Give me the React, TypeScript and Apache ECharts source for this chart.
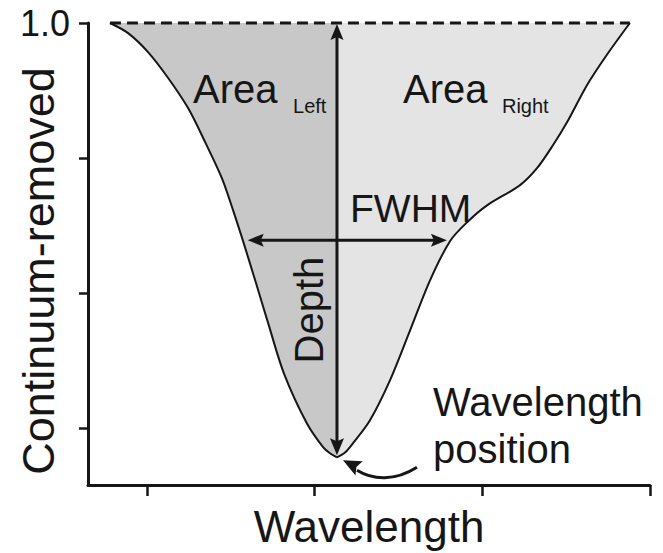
import { useEffect, useRef } from "react";
import * as echarts from "echarts";

// Continuum-removed absorption feature, left limb (shoulder to band centre)
const leftWavelength = [0.779, 0.887, 1.006, 1.125, 1.245, 1.346, 1.447, 1.513, 1.573, 1.65, 1.722, 1.817, 1.954, 2.05, 2.091, 2.133];
const leftValue = [1.0, 0.985, 0.957, 0.919, 0.874, 0.824, 0.77, 0.723, 0.677, 0.615, 0.556, 0.481, 0.407, 0.372, 0.363, 0.357];

// Right limb (band centre to shoulder)
const rightWavelength = [2.133, 2.181, 2.229, 2.33, 2.449, 2.569, 2.688, 2.807, 2.909, 3.028, 3.225, 3.326, 3.421, 3.505, 3.624, 3.743, 3.88];
const rightValue = [0.357, 0.364, 0.378, 0.412, 0.471, 0.545, 0.619, 0.677, 0.705, 0.73, 0.76, 0.785, 0.819, 0.853, 0.908, 0.953, 1.0];

// Continuum (hull) level and axis ticks
const continuumLevel = 1.0;
const xTicks = [1, 2, 3, 4];
const yTicks = [1.0, 0.8, 0.6, 0.4];
const yLabelTicks = [1.0];

const FONT = "'Liberation Sans', Arial, Helvetica, sans-serif";
const INK = "#161616";

const zip = (xs: number[], ys: number[]) => xs.map((x, i) => [x, ys[i]]);

// x position where a limb crosses a given level (linear between samples)
function crossing(xs: number[], ys: number[], level: number): number {
  for (let i = 0; i < xs.length - 1; i++) {
    const a = ys[i], b = ys[i + 1];
    if ((a - level) * (b - level) <= 0 && a !== b) {
      return xs[i] + ((level - a) / (b - a)) * (xs[i + 1] - xs[i]);
    }
  }
  return xs[0];
}

function arrowHead(tip: number[], dx: number, dy: number, len: number, halfW: number, notch: number) {
  const m = Math.hypot(dx, dy);
  const ux = dx / m, uy = dy / m;
  const bx = tip[0] - ux * len, by = tip[1] - uy * len;
  const nx = -uy, ny = ux;
  return [
    [tip[0], tip[1]],
    [bx + nx * halfW, by + ny * halfW],
    [tip[0] - ux * (len - notch), tip[1] - uy * (len - notch)],
    [bx - nx * halfW, by - ny * halfW],
  ];
}

export default function App() {
  const ref = useRef<HTMLDivElement>(null);

  useEffect(() => {
    document.body.style.margin = "0";
    if (!ref.current) return;
    const chart = echarts.init(ref.current, null, { renderer: "svg" });

    const bandCenter = leftWavelength[leftWavelength.length - 1];
    const bandMin = leftValue[leftValue.length - 1];
    const halfLevel = (continuumLevel + bandMin) / 2;
    const fwhmLeft = crossing(leftWavelength, leftValue, halfLevel);
    const fwhmRight = crossing(rightWavelength, rightValue, halfLevel);

    chart.setOption({
      animation: false,
      backgroundColor: "#ffffff",
      grid: { left: 88, right: 13, top: 23, bottom: 68, containLabel: false, outerBoundsMode: "none" },
      xAxis: {
        type: "value",
        min: 0.648,
        max: 4,
        name: "Wavelength",
        nameLocation: "middle",
        nameGap: 19,
        nameMoveOverlap: false,
        nameTextStyle: { fontSize: 44, fontFamily: FONT, color: INK },
        axisLine: { show: true, onZero: false, lineStyle: { color: INK, width: 3 } },
        axisTick: { show: true, customValues: xTicks, length: 11, lineStyle: { color: INK, width: 2.5 } },
        axisLabel: { show: false },
        splitLine: { show: false },
      },
      yAxis: {
        type: "value",
        min: 0.316,
        max: 1.0,
        axisLine: { show: true, onZero: false, lineStyle: { color: INK, width: 3 } },
        axisTick: { show: true, customValues: yTicks, length: 9, lineStyle: { color: INK, width: 2.5 } },
        axisLabel: {
          show: true,
          customValues: yLabelTicks,
          margin: 18,
          fontSize: 36,
          fontFamily: FONT,
          color: INK,
          formatter: (v: number) => v.toFixed(1),
        },
        splitLine: { show: false },
      },
      series: [
        {
          name: "Area Left",
          type: "line",
          data: zip(leftWavelength, leftValue),
          smooth: 0.3,
          showSymbol: false,
          clip: false,
          lineStyle: { color: INK, width: 2 },
          areaStyle: { color: "#c8c8c8", opacity: 1, origin: "end" },
          z: 2,
        },
        {
          name: "Area Right",
          type: "line",
          data: zip(rightWavelength, rightValue),
          smooth: 0.3,
          showSymbol: false,
          clip: false,
          lineStyle: { color: INK, width: 2 },
          areaStyle: { color: "#e4e4e4", opacity: 1, origin: "end" },
          z: 2,
        },
        {
          name: "Continuum",
          type: "line",
          data: [
            [leftWavelength[0], continuumLevel],
            [rightWavelength[rightWavelength.length - 1], continuumLevel],
          ],
          showSymbol: false,
          clip: false,
          lineStyle: { color: INK, width: 3, type: [11, 6] },
          z: 4,
        },
      ],
    });

    const p = (x: number, y: number) => chart.convertToPixel({ gridIndex: 0 }, [x, y]) as number[];

    const top = p(bandCenter, continuumLevel);
    const bottom = p(bandCenter, bandMin);
    const fl = p(fwhmLeft, halfLevel);
    const fr = p(fwhmRight, halfLevel);

    const depthTop = [top[0], top[1] + 1];
    const depthBottom = [bottom[0], bottom[1] - 2];
    const fwhmL = [fl[0] + 5, fl[1]];
    const fwhmR = [fr[0] - 4, fr[1]];

    // curved pointer to the band centre
    const c0 = bottom;
    const curveStart = [c0[0] + 80, c0[1] + 10];
    const curveEnd = [c0[0] + 20, c0[1] + 13];
    const curveTip = [c0[0] + 6, c0[1] + 3];

    const textStyle = (text: string, x: number, y: number, size: number, align = "left") => ({
      text,
      x,
      y,
      fill: INK,
      font: `${size}px ${FONT}`,
      fontSize: size,
      fontFamily: FONT,
      textAlign: align,
      textVerticalAlign: "middle",
    });

    const aL = p(1.274, 0.902);
    const sL = p(1.871, 0.877);
    const aR = p(2.527, 0.902);
    const sR = p(3.117, 0.877);
    const fw = p(2.211, 0.726);
    const dp = p(1.966, 0.575);
    const w1 = p(2.706, 0.439);
    const w2 = p(2.706, 0.369);

    // vertical axis title, centred beside the axis line
    const axisTop = p(0.648, 1.0);
    const axisBottom = p(0.648, 0.316);
    const yTitle = [axisTop[0] - 50, (axisTop[1] + axisBottom[1]) / 2 + 17];

    chart.setOption({
      graphic: [
        { type: "text", z: 21, x: yTitle[0], y: yTitle[1], rotation: Math.PI / 2, style: textStyle("Continuum-removed", 0, 0, 45, "center") },
        { type: "line", z: 20, shape: { x1: depthTop[0], y1: depthTop[1] + 10, x2: depthBottom[0], y2: depthBottom[1] - 10 }, style: { stroke: INK, lineWidth: 3 } },
        { type: "polygon", z: 20, shape: { points: arrowHead(depthTop, 0, -1, 16, 6.5, 3) }, style: { fill: INK } },
        { type: "polygon", z: 20, shape: { points: arrowHead(depthBottom, 0, 1, 17, 7, 3) }, style: { fill: INK } },
        { type: "line", z: 20, shape: { x1: fwhmL[0] + 10, y1: fwhmL[1], x2: fwhmR[0] - 10, y2: fwhmR[1] }, style: { stroke: INK, lineWidth: 3 } },
        { type: "polygon", z: 20, shape: { points: arrowHead(fwhmL, -1, 0, 16, 6.5, 3) }, style: { fill: INK } },
        { type: "polygon", z: 20, shape: { points: arrowHead(fwhmR, 1, 0, 16, 6.5, 3) }, style: { fill: INK } },
        {
          type: "bezierCurve",
          z: 20,
          shape: {
            x1: curveStart[0], y1: curveStart[1],
            cpx1: curveStart[0] - 22, cpy1: curveStart[1] + 14,
            cpx2: curveEnd[0] + 16, cpy2: curveEnd[1] + 10,
            x2: curveEnd[0], y2: curveEnd[1],
          },
          style: { stroke: INK, lineWidth: 3, fill: null },
        },
        {
          type: "polygon",
          z: 20,
          shape: { points: arrowHead(curveTip, curveTip[0] - curveEnd[0] - 6, curveTip[1] - curveEnd[1], 18, 8, 3) },
          style: { fill: INK },
        },
        { type: "text", z: 21, style: textStyle("Area", aL[0], aL[1], 40) },
        { type: "text", z: 21, style: textStyle("Left", sL[0], sL[1], 20) },
        { type: "text", z: 21, style: textStyle("Area", aR[0], aR[1], 40) },
        { type: "text", z: 21, style: textStyle("Right", sR[0], sR[1], 20) },
        { type: "text", z: 21, style: textStyle("FWHM", fw[0], fw[1], 39) },
        { type: "text", z: 21, x: dp[0], y: dp[1], rotation: Math.PI / 2, style: textStyle("Depth", 0, 0, 40, "center") },
        { type: "text", z: 21, style: textStyle("Wavelength", w1[0], w1[1], 40) },
        { type: "text", z: 21, style: textStyle("position", w2[0], w2[1], 40) },
      ],
    });

    return () => chart.dispose();
  }, []);

  return <div ref={ref} style={{ width: 663, height: 553 }} />;
}
